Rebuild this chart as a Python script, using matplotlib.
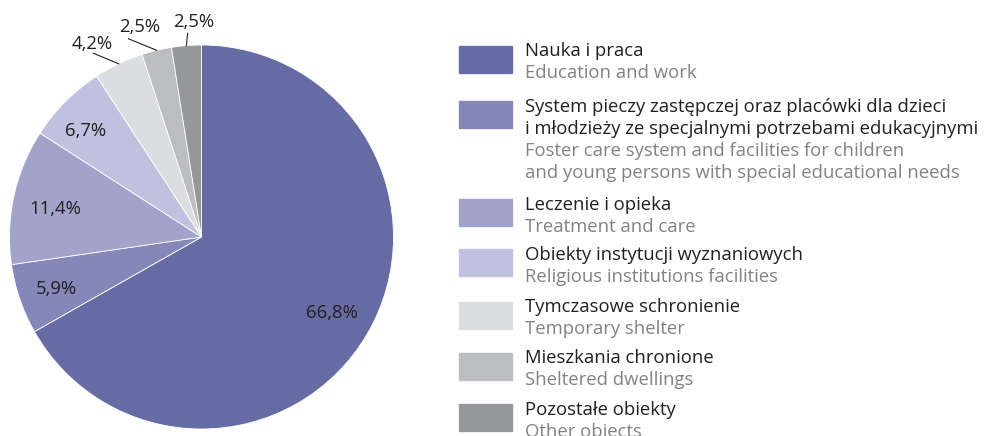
import numpy as np
import matplotlib.pyplot as plt
from matplotlib.patches import Rectangle

plt.rcParams['font.family'] = ['Open Sans', 'DejaVu Sans']

# shares of buildings by purpose, percent
shares = [66.8, 5.9, 11.4, 6.7, 4.2, 2.5, 2.5]
share_labels = ['66,8%', '5,9%', '11,4%', '6,7%', '4,2%', '2,5%', '2,5%']
colors = ['#666ba4', '#8487b8', '#a1a3ca', '#bfc1de', '#dcdde0', '#bcbdc1', '#96979b']
names_pl = [
    ['Nauka i praca'],
    ['System pieczy zastępczej oraz placówki dla dzieci',
     'i młodzieży ze specjalnymi potrzebami edukacyjnymi'],
    ['Leczenie i opieka'],
    ['Obiekty instytucji wyznaniowych'],
    ['Tymczasowe schronienie'],
    ['Mieszkania chronione'],
    ['Pozostałe obiekty'],
]
names_en = [
    ['Education and work'],
    ['Foster care system and facilities for children',
     'and young persons with special educational needs'],
    ['Treatment and care'],
    ['Religious institutions facilities'],
    ['Temporary shelter'],
    ['Sheltered dwellings'],
    ['Other objects'],
]

W, H = 998, 436
fig = plt.figure(figsize=(W / 100, H / 100), dpi=100)
fig.patch.set_facecolor('white')

# pie axes: centre (201.5, 237) px, radius 192 px
cx, cy, r = 201.5, 237, 192
ax = fig.add_axes([(cx - r) / W, (H - cy - r) / H, 2 * r / W, 2 * r / H])
wedges, _ = ax.pie(shares, colors=colors, startangle=90, counterclock=False,
                   radius=1.0, wedgeprops=dict(edgecolor='white', linewidth=0.6))
ax.set_xlim(-1, 1)
ax.set_ylim(-1, 1)
ax.axis('off')

txt_color = '#231f20'
fs = 13.3
# label placement: radius (in pie radii) and angular shift from wedge middle (deg)
label_r = [0.785, 0.805, 0.777, 0.817, 1.156, 1.142, 1.122]
label_shift = [-0.2, 0.8, 1.4, 2.3, 4.0, 2.9, -2.5]
# leader lines for the small outside labels: outer radius, angular shift
leader = {4: (1.11, 4.9), 5: (1.10, 6.7), 6: (1.063, -0.6)}

for i, (w, lab) in enumerate(zip(wedges, share_labels)):
    mid = (w.theta1 + w.theta2) / 2
    ang = np.deg2rad(mid + label_shift[i])
    ax.text(label_r[i] * np.cos(ang), label_r[i] * np.sin(ang), lab,
            ha='center', va='center', fontsize=fs, color=txt_color)
    if i in leader:
        lr, sh = leader[i]
        a0, a1 = np.deg2rad(mid), np.deg2rad(mid + sh)
        ax.plot([np.cos(a0), lr * np.cos(a1)], [np.sin(a0), lr * np.sin(a1)],
                color=txt_color, lw=0.8, clip_on=False)

# legend on the right, laid out in pixels from the top-left corner
entry_top = [46, 101, 199, 249.5, 301.5, 352.5, 404]
pitch = 22.0
for i, c in enumerate(colors):
    top = entry_top[i]
    fig.patches.append(Rectangle((459 / W, 1 - (top + 27) / H), 53 / W, 27 / H,
                                 transform=fig.transFigure, color=c))
    lines = [(t, txt_color) for t in names_pl[i]] + [(t, '#808285') for t in names_en[i]]
    for k, (t, col) in enumerate(lines):
        yb = top + 10.5 + k * pitch
        fig.text(525 / W, 1 - yb / H, t, ha='left', va='baseline', fontsize=fs, color=col)

fig.savefig('out.png', dpi=100)
